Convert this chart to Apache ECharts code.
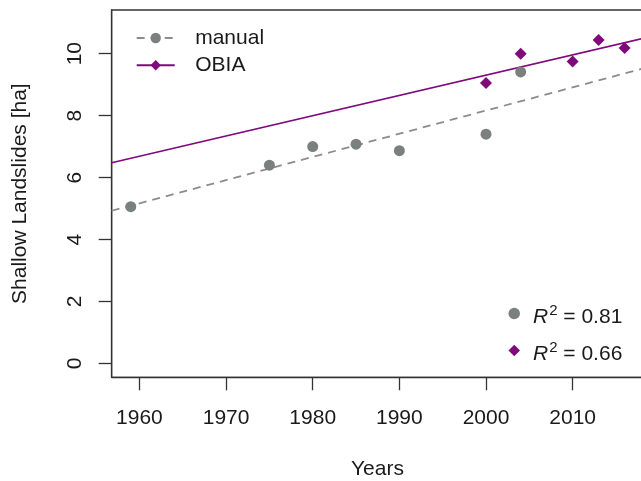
<!DOCTYPE html>
<html><head><meta charset="utf-8">
<script src="https://cdn.jsdelivr.net/npm/echarts@6/dist/echarts.min.js"></script>
<style>html,body{margin:0;padding:0;background:#fff}#c{width:641px;height:481px}</style>
</head><body><div id="c"></div>
<script>
// ---- data ----
const seriesNames = ['manual', 'OBIA'];
const manualYears = [1959, 1975, 1980, 1985, 1990, 2000, 2004];
const manualValues = [5.06, 6.4, 7.0, 7.08, 6.87, 7.4, 9.41];
const obiaYears = [2000, 2004, 2010, 2013, 2016];
const obiaValues = [9.05, 10.0, 9.75, 10.44, 10.18];
// regression lines, end points
const fitYears = [1956.8, 2018.5];
const manualFitValues = [4.93, 9.55];
const obiaFitValues = [6.48, 10.52];
const r2Values = [0.81, 0.66];
const xTicks = [1960, 1970, 1980, 1990, 2000, 2010];
const yTicks = [0, 2, 4, 6, 8, 10];

const FONT = '"Liberation Sans", Arial, Helvetica, sans-serif';
const GREY = '#7a807e';
const DASH = '#8c8c8c';
const PURPLE = '#800a7c';
const INK = '#1a1a1a';
const AX = '#333333';
const zip = (xs, ys) => xs.map((x, i) => [x, ys[i]]);

const chart = echarts.init(document.getElementById('c'), null, {renderer: 'canvas'});
chart.setOption({
  animation: false,
  backgroundColor: '#ffffff',
  textStyle: {fontFamily: FONT},
  grid: {left: 111.7, top: 10, right: -18.3, bottom: 103.7, show: true,
         containLabel: false, outerBoundsMode: 'none',
         borderColor: AX, borderWidth: 1.3, backgroundColor: 'transparent'},
  xAxis: {
    type: 'value', min: 1956.8, max: 2020,
    name: 'Years', nameLocation: 'middle', nameGap: 81.5,
    nameTextStyle: {fontSize: 21, color: INK, padding: [0, 16, 0, 0]},
    splitLine: {show: false},
    axisLine: {show: true, onZero: false, lineStyle: {color: AX, width: 1.3}},
    axisTick: {show: true, length: 13, customValues: xTicks, lineStyle: {color: AX, width: 1.3}},
    axisLabel: {customValues: xTicks, fontSize: 21, color: INK, margin: 30, formatter: v => String(v)}
  },
  yAxis: {
    type: 'value', min: -0.446, max: 11.41,
    name: 'Shallow Landslides [ha]', nameLocation: 'middle', nameGap: 81, nameRotate: 90,
    nameTextStyle: {fontSize: 21, color: INK},
    splitLine: {show: false},
    axisLine: {show: true, onZero: false, lineStyle: {color: AX, width: 1.3}},
    axisTick: {show: true, length: 13, customValues: yTicks, lineStyle: {color: AX, width: 1.3}},
    axisLabel: {customValues: yTicks, fontSize: 21, color: INK, margin: 26, rotate: 90, formatter: v => String(v)}
  },
  legend: [
    {
      data: seriesNames, orient: 'vertical', left: 135.7, top: 27.5, padding: 0,
      itemWidth: 38, itemHeight: 13, itemGap: 6.3, selectedMode: false,
      textStyle: {fontSize: 21, lineHeight: 21, color: INK, padding: [0, 0, 0, 15.5]}
    },
    {
      data: seriesNames.map((n, i) => ({name: n, icon: i === 0 ? 'circle' : 'diamond'})),
      orient: 'vertical', left: 508.5, top: 303, padding: 0,
      itemWidth: 11.5, itemHeight: 11.5, itemGap: 12.5, selectedMode: false,
      formatter: name => '{r|R}{s|2}{t| = ' + r2Values[seriesNames.indexOf(name)].toFixed(2) + '}',
      textStyle: {
        color: INK, padding: [7, 0, 0, 8],
        rich: {
          r: {fontSize: 21, fontStyle: 'italic', color: INK},
          s: {fontSize: 15, color: INK, padding: [0, 0, 13, 1]},
          t: {fontSize: 21, color: INK}
        }
      }
    }
  ],
  series: [
    {name: 'manual', type: 'line', data: zip(fitYears, manualFitValues),
     symbol: 'circle', symbolSize: 11, showSymbol: false, silent: true, z: 2,
     lineStyle: {color: DASH, width: 1.8, type: [8, 6]}, itemStyle: {color: GREY}},
    {name: 'OBIA', type: 'line', data: zip(fitYears, obiaFitValues),
     symbol: 'diamond', symbolSize: 12, showSymbol: false, silent: true, z: 2,
     lineStyle: {color: PURPLE, width: 1.7}, itemStyle: {color: PURPLE}},
    {name: 'manual', type: 'scatter', data: zip(manualYears, manualValues),
     symbol: 'circle', symbolSize: 11, z: 3, itemStyle: {color: GREY, opacity: 1}},
    {name: 'OBIA', type: 'scatter', data: zip(obiaYears, obiaValues),
     symbol: 'diamond', symbolSize: 12, z: 3, itemStyle: {color: PURPLE, opacity: 1}}
  ]
});
</script></body></html>
